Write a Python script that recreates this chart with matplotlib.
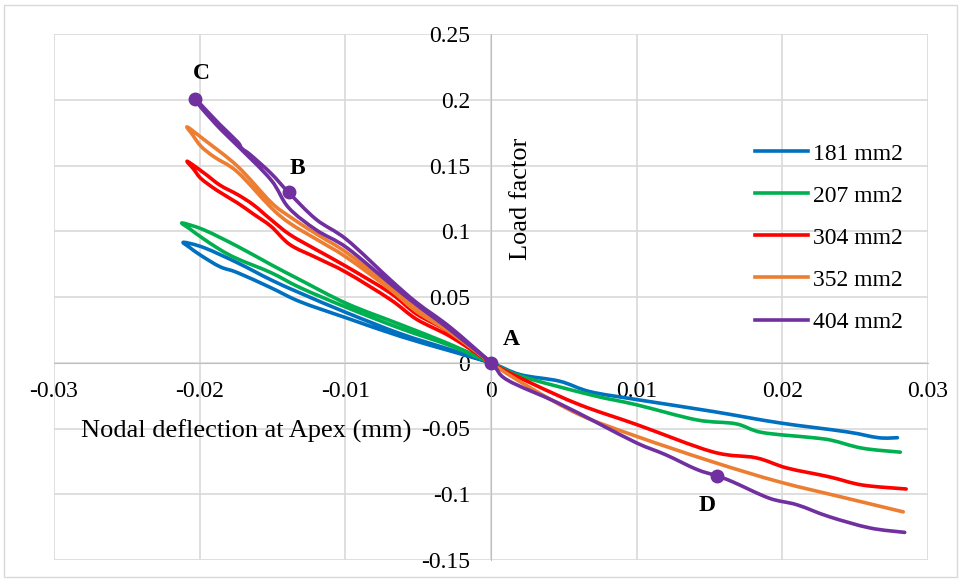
import numpy as np
import matplotlib.pyplot as plt
from matplotlib.patches import Rectangle, PathPatch
from matplotlib.path import Path
from matplotlib.lines import Line2D

plt.rcParams['font.family'] = ['Liberation Serif', 'DejaVu Serif']
plt.rcParams['axes.unicode_minus'] = False

# ---- данные ----
labels = ['181 mm2', '207 mm2', '304 mm2', '352 mm2', '404 mm2']
colors = ['#0070C0', '#00B050', '#FF0000', '#ED7D31', '#7030A0']

# положительная ветвь (от 0 вправо)
pos_x = {
    '181 mm2': [0, 0.002, 0.0047, 0.0068, 0.010, 0.0152, 0.0198, 0.0244, 0.0266, 0.0279],
    '207 mm2': [0, 0.002, 0.0068, 0.010, 0.0141, 0.0168, 0.0186, 0.0221, 0.0234, 0.0255, 0.0281],
    '304 mm2': [0, 0.0027, 0.0061, 0.010, 0.0152, 0.0182, 0.0203, 0.0232, 0.0255, 0.0285],
    '352 mm2': [0, 0.0027, 0.0061, 0.010, 0.0152, 0.0198, 0.0244, 0.0283],
    '404 mm2': [0, 0.0011, 0.0045, 0.0073, 0.010, 0.012, 0.0141, 0.0155, 0.0166, 0.0191, 0.021, 0.0232, 0.026, 0.0284],
}
pos_y = {
    '181 mm2': [0, -0.009, -0.014, -0.022, -0.028, -0.037, -0.0457, -0.0525, -0.057, -0.057],
    '207 mm2': [0, -0.010, -0.0243, -0.032, -0.0434, -0.0464, -0.053, -0.057, -0.059, -0.065, -0.068],
    '304 mm2': [0, -0.0152, -0.032, -0.047, -0.0677, -0.0723, -0.080, -0.0867, -0.093, -0.096],
    '352 mm2': [0, -0.019, -0.0396, -0.056, -0.0753, -0.0906, -0.103, -0.1134],
    '404 mm2': [0, -0.013, -0.030, -0.0457, -0.061, -0.070, -0.081, -0.086, -0.0906, -0.103, -0.108, -0.117, -0.1256, -0.129],
}

# отрицательная ветвь: нагрузка (от 0 до вершины петли)
load_x = {
    '181 mm2': [0, -0.0028, -0.0062, -0.0099, -0.0131, -0.0151, -0.0174, -0.0197, -0.0211],
    '207 mm2': [0, -0.0028, -0.0062, -0.0099, -0.0131, -0.0151, -0.0174, -0.0197, -0.0212],
    '304 mm2': [0, -0.0028, -0.0051, -0.0069, -0.0099, -0.0120, -0.0138, -0.0151, -0.0163, -0.0174, -0.0186, -0.0197, -0.02085],
    '352 mm2': [0, -0.0028, -0.0051, -0.0069, -0.0099, -0.0120, -0.0138, -0.0151, -0.0174, -0.0197, -0.02085],
    '404 mm2': [0, -0.0028, -0.0051, -0.0069, -0.0099, -0.0120, -0.0139, -0.0151, -0.0165, -0.0171, -0.0174, -0.0186, -0.0197, -0.0203],
}
load_y = {
    '181 mm2': [0, 0.010, 0.022, 0.038, 0.053, 0.063, 0.076, 0.0875, 0.0916],
    '207 mm2': [0, 0.014, 0.029, 0.045, 0.063, 0.0746, 0.0885, 0.101, 0.1063],
    '304 mm2': [0, 0.023, 0.037, 0.053, 0.073, 0.086, 0.0974, 0.1088, 0.120, 0.1279, 0.135, 0.1443, 0.1532],
    '352 mm2': [0, 0.025, 0.041, 0.058, 0.0837, 0.098, 0.111, 0.122, 0.1494, 0.1697, 0.1793],
    '404 mm2': [0, 0.027, 0.0457, 0.063, 0.0936, 0.109, 0.1296, 0.144, 0.158, 0.163, 0.168, 0.181, 0.1938, 0.2007],
}

# разгрузка (от вершины петли обратно к 0)
unload_x = {
    '181 mm2': [-0.0207, -0.0199, -0.0186, -0.0174, -0.0151, -0.0131, -0.0099, -0.0062, -0.0028, 0],
    '207 mm2': [-0.0207, -0.0199, -0.0186, -0.0174, -0.0151, -0.0131, -0.0099, -0.0062, -0.0028, 0],
    '304 mm2': [-0.0204, -0.0199, -0.0188, -0.0174, -0.0163, -0.0151, -0.0138, -0.0120, -0.0099, -0.0069, -0.0051, -0.0028, 0],
    '352 mm2': [-0.0205, -0.0199, -0.0190, -0.0174, -0.0151, -0.0138, -0.0120, -0.0099, -0.0069, -0.0051, -0.0028, 0],
    '404 mm2': [-0.0199, -0.0186, -0.0174, -0.0151, -0.0139, -0.0120, -0.0099, -0.0069, -0.0051, -0.0028, 0],
}
unload_y = {
    '181 mm2': [0.0878, 0.0815, 0.0730, 0.0685, 0.057, 0.0464, 0.034, 0.020, 0.009, 0],
    '207 mm2': [0.1020, 0.0955, 0.0860, 0.0790, 0.0685, 0.0571, 0.042, 0.026, 0.013, 0],
    '304 mm2': [0.1470, 0.1400, 0.1310, 0.1215, 0.113, 0.1037, 0.0898, 0.080, 0.0685, 0.048, 0.033, 0.020, 0],
    '352 mm2': [0.1735, 0.1645, 0.1565, 0.1450, 0.118, 0.106, 0.094, 0.080, 0.0556, 0.039, 0.023, 0],
    '404 mm2': [0.194, 0.178, 0.165, 0.139, 0.118, 0.101, 0.0875, 0.060, 0.044, 0.025, 0],
}

# точки A, B, C, D на кривой 404 mm2
pt_names = ['A', 'B', 'C', 'D']
pt_x = [0, -0.0139, -0.0203, 0.0155]
pt_y = [0, 0.1296, 0.2007, -0.086]

x_ticks = [-0.03, -0.02, -0.01, 0, 0.01, 0.02, 0.03]
y_ticks = [-0.15, -0.1, -0.05, 0, 0.05, 0.1, 0.15, 0.2, 0.25]


def smooth_path(xs, ys, k=1 / 6):
    # сглаженная линия как в Excel: кубические Безье через точки (Catmull-Rom)
    p = np.column_stack([xs, ys])
    n = len(p)
    verts = [p[0]]
    codes = [Path.MOVETO]
    for i in range(n - 1):
        p0 = p[i - 1] if i > 0 else p[i]
        p3 = p[i + 2] if i + 2 < n else p[i + 1]
        c1 = p[i] + (p[i + 1] - p0) * k
        c2 = p[i + 1] - (p3 - p[i]) * k
        verts += [c1, c2, p[i + 1]]
        codes += [Path.CURVE4] * 3
    return Path(verts, codes)


# ---- рисуем ----
fig = plt.figure(figsize=(9.6, 5.8), dpi=100)
ax = fig.add_axes([54 / 960, 20 / 580, 874 / 960, 526 / 580])

handles = []
for name, c in zip(labels, colors):
    xs = pos_x[name][::-1] + load_x[name][1:] + unload_x[name]
    ys = pos_y[name][::-1] + load_y[name][1:] + unload_y[name]
    ax.add_patch(PathPatch(smooth_path(xs, ys), fill=False, ec=c, lw=2.6,
                           joinstyle='round', capstyle='round', zorder=3))
    handles.append(Line2D([0], [0], color=c, lw=2.6, label=name))

ax.plot(pt_x, pt_y, 'o', color='#7030A0', ms=9, zorder=4)

ax.set_xlim(-0.03, 0.03)
ax.set_ylim(-0.15, 0.25)
ax.set_xticks(x_ticks)
ax.set_yticks(y_ticks)
ax.set_xticklabels(['%g' % v for v in x_ticks])
ax.set_yticklabels(['%g' % v for v in y_ticks])
ax.tick_params(axis='both', length=0, labelsize=17)
ax.tick_params(axis='x', pad=13)
ax.tick_params(axis='y', pad=15)

ax.spines['left'].set_position(('data', 0))
ax.spines['bottom'].set_position(('data', 0))
ax.spines['left'].set_color('#BFBFBF')
ax.spines['bottom'].set_color('#BFBFBF')
ax.spines['top'].set_visible(False)
ax.spines['right'].set_visible(False)
ax.set_axisbelow(True)
ax.grid(True, color='#D9D9D9', lw=1.2)

# подписи осей
ax.text(0.00205, 0.1248, 'Load factor', rotation=90, ha='center', va='center', fontsize=19)
ax.text(-0.0168, -0.0518, 'Nodal deflection at Apex (mm)', ha='center', va='center', fontsize=19)

# буквы у точек
lbl_x = [0.00137, -0.0133, -0.0199, 0.01486]
lbl_y = [0.0175, 0.148, 0.22, -0.1088]
for n, lx, ly in zip(pt_names, lbl_x, lbl_y):
    ax.text(lx, ly, n, fontsize=17, fontweight='bold', ha='center', va='center')

ax.legend(handles=handles, loc='upper left', bbox_to_anchor=(755 / 960, 1 - 143 / 580),
          bbox_transform=fig.transFigure, frameon=False, fontsize=17,
          handlelength=2.25, handletextpad=0.2, labelspacing=0.87,
          borderpad=0, borderaxespad=0)

fig.add_artist(Rectangle((4 / 960, 3 / 580), 953 / 960, 572 / 580,
                         transform=fig.transFigure, fill=False,
                         ec='#D9D9D9', lw=1))

fig.savefig('out.png', dpi=100)
